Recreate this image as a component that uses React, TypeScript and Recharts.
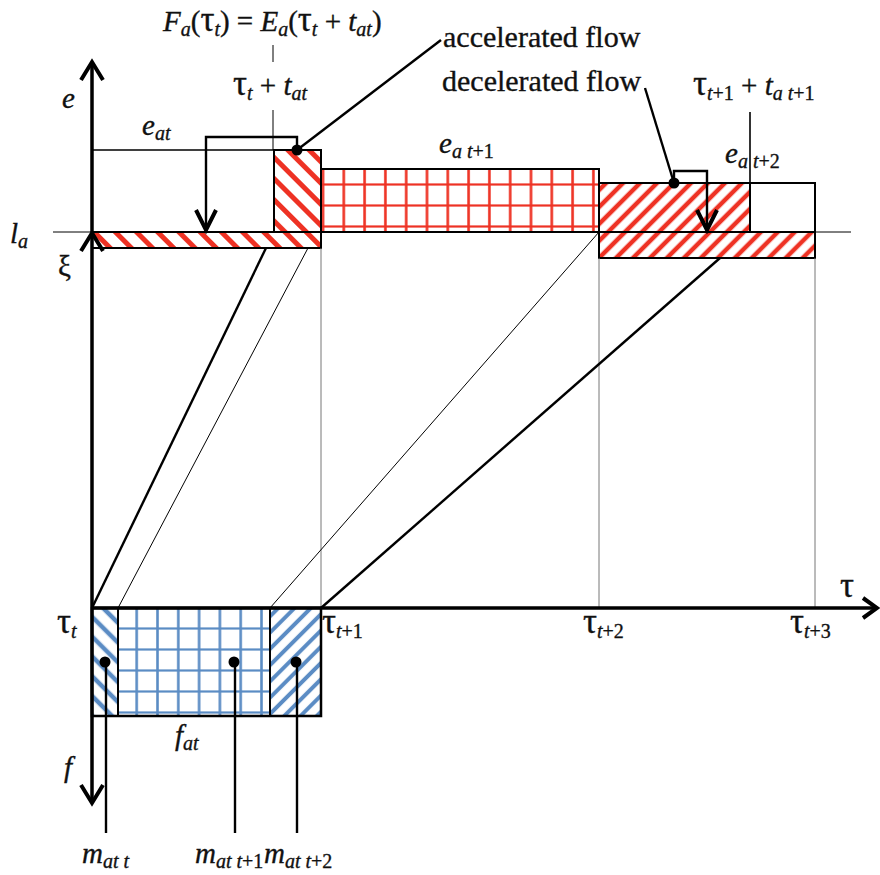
import React from 'react'
import { ComposedChart, XAxis, YAxis, Line, ReferenceArea, ReferenceDot, Scatter } from 'recharts'

const W = 880
const H = 875
const RED = '#ee3224'
const BLUE = '#5b8cc4'
const SERIF = 'Liberation Serif, serif'

// τ axis positions of τ_t … τ_{t+3}
const TAU = [0, 229, 507, 723]
// τ_t + t_at  and  τ_{t+1} + t_{a t+1}
const T_ACC = 182
const T_DEC = 658

// levels above the τ axis
const L_A = 376
const E_AT = 458
const E_AT1 = 439
const E_AT2 = 425
const BAR1 = 360
const BAR2 = 350

// stock below the τ axis
const F_AT = -108
const M_SPLIT = [26, 178]

type Pt = { x: number; y: number }
const p = (x: number, y: number): Pt => ({ x, y })

const head = (tip: Pt, dir: 'up' | 'down' | 'right', s = 11, l = 18): Pt[] => {
  if (dir === 'up') return [p(tip.x - s, tip.y - l), tip, p(tip.x + s, tip.y - l)]
  if (dir === 'down') return [p(tip.x - s, tip.y + l), tip, p(tip.x + s, tip.y + l)]
  return [p(tip.x - l + 4, tip.y + s - 1), tip, p(tip.x - l + 4, tip.y - s + 1)]
}

const AXES: Pt[][] = [
  [p(0, L_A), p(0, 545)],
  [p(0, 0), p(0, 374)],
  [p(0, 0), p(784, 0)],
  [p(0, 0), p(0, -194)],
]

const HEADS: Pt[][] = [
  head(p(0, 546), 'up'),
  head(p(0, 375), 'up'),
  head(p(785, 0), 'right'),
  head(p(0, -195), 'down'),
  head(p(114, 378), 'down', 10, 20),
  head(p(615, 378), 'down', 10, 20),
]

const MEDIUM: Pt[][] = [
  [p(0, 0), p(174, BAR1)],
  [p(TAU[1], 0), p(628, BAR2)],
  [p(205, E_AT), p(205, 471), p(114, 471), p(114, 379)],
  [p(582, E_AT2), p(582, 437), p(615, 437), p(615, 379)],
  [p(205, E_AT), p(349, 568)],
  [p(582, E_AT2), p(553, 520)],
  [p(14, -54), p(14, -225)],
  [p(143, -54), p(143, -225)],
  [p(205, -54), p(205, -225)],
]

const THIN: Pt[][] = [
  [p(M_SPLIT[0], 0), p(216, BAR1)],
  [p(M_SPLIT[1], 0), p(TAU[2], L_A)],
  [p(-39, L_A), p(759, L_A)],
  [p(T_ACC - 1, 563), p(T_ACC - 1, 546)],
  [p(T_ACC - 1, 498), p(T_ACC - 1, E_AT)],
  [p(T_DEC, 496), p(T_DEC, L_A)],
]

const GREY: Pt[][] = [
  [p(TAU[1], 0), p(TAU[1], BAR1)],
  [p(TAU[2], 0), p(TAU[2], BAR2)],
  [p(TAU[3], 0), p(TAU[3], BAR2)],
]

const DOTS: Pt[] = [p(205, E_AT), p(582, E_AT2), p(13, -54), p(142, -54), p(204, -54)]

const AREAS = [
  { x1: TAU[0], x2: T_ACC, y1: L_A, y2: E_AT, fill: 'none' },
  { x1: T_ACC, x2: TAU[1], y1: L_A, y2: E_AT, fill: 'url(#redBack)' },
  { x1: TAU[0], x2: TAU[1], y1: BAR1, y2: L_A, fill: 'url(#redBack)' },
  { x1: TAU[1], x2: TAU[2], y1: L_A, y2: E_AT1, fill: 'url(#redGrid)' },
  { x1: TAU[2], x2: T_DEC, y1: L_A, y2: E_AT2, fill: 'url(#redFwd)' },
  { x1: T_DEC, x2: TAU[3], y1: L_A, y2: E_AT2, fill: '#fff' },
  { x1: TAU[2], x2: TAU[3], y1: BAR2, y2: L_A, fill: 'url(#redFwd)' },
  { x1: TAU[0], x2: M_SPLIT[0], y1: F_AT, y2: 0, fill: 'url(#blueBack)' },
  { x1: M_SPLIT[0], x2: M_SPLIT[1], y1: F_AT, y2: 0, fill: 'url(#blueGrid)' },
  { x1: M_SPLIT[1], x2: TAU[1], y1: F_AT, y2: 0, fill: 'url(#blueFwd)' },
]

// text runs: i italic, n normal, g greek, si italic subscript, sn normal subscript
type Run = [string, string]
const SYMBOLS: { x: number; y: number; runs: Run[] }[] = [
  { x: 71, y: 577, runs: [['F', 'i'], ['a', 'si'], ['(', 'n'], ['τ', 'g'], ['t', 'si'], [') = ', 'n'], ['E', 'i'], ['a', 'si'], ['(', 'n'], ['τ', 'g'], ['t', 'si'], [' + ', 'n'], ['t', 'i'], ['at', 'si'], [')', 'n']] },
  { x: 141, y: 513, runs: [['τ', 'g'], ['t', 'si'], [' + ', 'n'], ['t', 'i'], ['at', 'si']] },
  { x: 601, y: 513, runs: [['τ', 'g'], ['t', 'si'], ['+1', 'sn'], [' + ', 'n'], ['t', 'i'], ['a t', 'si'], ['+1', 'sn']] },
  { x: -30, y: 500, runs: [['e', 'i']] },
  { x: 50, y: 473, runs: [['e', 'i'], ['at', 'si']] },
  { x: -82, y: 365, runs: [['l', 'i'], ['a', 'si']] },
  { x: -34, y: 332, runs: [['ξ', 'n']] },
  { x: 347, y: 455, runs: [['e', 'i'], ['a t', 'si'], ['+1', 'sn']] },
  { x: 633, y: 445, runs: [['e', 'i'], ['a t', 'si'], ['+2', 'sn']] },
  { x: 748, y: 11, runs: [['τ', 'g']] },
  { x: -35, y: -25, runs: [['τ', 'g'], ['t', 'si']] },
  { x: 230, y: -25, runs: [['τ', 'g'], ['t', 'si'], ['+1', 'sn']] },
  { x: 491, y: -25, runs: [['τ', 'g'], ['t', 'si'], ['+2', 'sn']] },
  { x: 698, y: -25, runs: [['τ', 'g'], ['t', 'si'], ['+3', 'sn']] },
  { x: 83, y: -137, runs: [['f', 'i'], ['at', 'si']] },
  { x: -28, y: -169, runs: [['f', 'i']] },
  { x: -10, y: -255, runs: [['m', 'i'], ['at t', 'si']] },
  { x: 103, y: -255, runs: [['m', 'i'], ['at t', 'si'], ['+1', 'sn']] },
  { x: 172, y: -255, runs: [['m', 'i'], ['at t', 'si'], ['+2', 'sn']] },
]

const NOTES = [
  { x: 351, y: 561, text: 'accelerated flow' },
  { x: 350, y: 517, text: 'decelerated flow' },
]

function renderRuns(props: any) {
  const { cx, cy, payload } = props
  const size = 29
  const shift = 5
  let low = false
  return (
    <text x={cx} y={cy} fill="#111" stroke="#111" strokeWidth={0.35} style={{ whiteSpace: 'pre', fontFamily: SERIF }}>
      {payload.runs.map(([t, k]: Run, i: number) => {
        const sub = k === 'si' || k === 'sn'
        const dy = sub && !low ? shift : !sub && low ? -shift : 0
        low = sub
        return (
          <tspan
            key={i}
            dy={dy}
            style={{
              fontFamily: SERIF,
              fontSize: sub ? 20 : k === 'g' ? size * 1.2 : size,
              fontStyle: k === 'i' || k === 'si' ? 'italic' : 'normal',
            }}
          >
            {t}
          </tspan>
        )
      })}
    </text>
  )
}

function renderNote(props: any) {
  const { cx, cy, payload } = props
  return (
    <text x={cx} y={cy} fill="#111" stroke="#111" strokeWidth={0.35} style={{ fontFamily: SERIF, fontSize: 30 }}>
      {payload.text}
    </text>
  )
}

const hatch = (id: string, color: string, gap: number, stroke: number, angle: number) => (
  <pattern id={id} patternUnits="userSpaceOnUse" width={gap} height={gap} patternTransform={`rotate(${angle})`}>
    <rect width={gap} height={gap} fill="#fff" />
    <line x1={gap / 2} y1={0} x2={gap / 2} y2={gap} stroke={color} strokeWidth={stroke} />
  </pattern>
)

const grid = (id: string, color: string, w: number, h: number, x: number, y: number) => (
  <pattern id={id} patternUnits="userSpaceOnUse" width={w} height={h} x={x} y={y}>
    <rect width={w} height={h} fill="#fff" />
    <line x1={w / 2} y1={0} x2={w / 2} y2={h} stroke={color} strokeWidth={2.6} />
    <line x1={0} y1={h / 2} x2={w} y2={h / 2} stroke={color} strokeWidth={2.2} />
  </pattern>
)

const pathLine = (pts: Pt[], key: string, stroke: string, width: number) => (
  <Line
    key={key}
    data={pts}
    dataKey="y"
    type="linear"
    stroke={stroke}
    strokeWidth={width}
    strokeLinejoin="miter"
    dot={false}
    activeDot={false}
    legendType="none"
    isAnimationActive={false}
  />
)

export default function App() {
  return (
    <div style={{ position: 'absolute', left: 0, top: 0, width: W, height: H, background: '#fff', fontFamily: SERIF }}>
      <ComposedChart width={W} height={H} margin={{ top: 0, right: 0, bottom: 0, left: 0 }}>
        <defs>
          {hatch('redBack', RED, 15, 5, -45)}
          {hatch('redFwd', RED, 12, 4.5, 45)}
          {hatch('blueBack', BLUE, 14, 4.5, -45)}
          {hatch('blueFwd', BLUE, 11.5, 4, 45)}
          {grid('redGrid', RED, 20.8, 21, 0.6, 6)}
          {grid('blueGrid', BLUE, 20.8, 21, 1.5, 9)}
        </defs>
        <XAxis type="number" dataKey="x" domain={[-92, 788]} hide allowDataOverflow />
        <YAxis type="number" dataKey="y" domain={[-267, 608]} hide allowDataOverflow />

        {AREAS.map((a, i) => (
          <ReferenceArea
            key={`a${i}`}
            x1={a.x1}
            x2={a.x2}
            y1={a.y1}
            y2={a.y2}
            fill={a.fill}
            fillOpacity={1}
            stroke="#000"
            strokeWidth={i === 0 ? 1.5 : 2}
            ifOverflow="visible"
          />
        ))}
        <ReferenceArea x1={TAU[0]} x2={TAU[1]} y1={F_AT} y2={0} fill="none" stroke="#000" strokeWidth={2.5} ifOverflow="visible" />

        {GREY.map((pts, i) => pathLine(pts, `g${i}`, '#777', 1))}
        {THIN.map((pts, i) => pathLine(pts, `t${i}`, '#000', i === 5 ? 1.6 : 1))}
        {MEDIUM.map((pts, i) => pathLine(pts, `m${i}`, '#000', 2.4))}
        {AXES.map((pts, i) => pathLine(pts, `x${i}`, '#000', 3.5))}
        {HEADS.map((pts, i) => pathLine(pts, `h${i}`, '#000', 4))}

        {DOTS.map((d, i) => (
          <ReferenceDot key={`d${i}`} x={d.x} y={d.y} r={5.5} fill="#000" stroke="none" ifOverflow="visible" />
        ))}

        <Scatter data={SYMBOLS} dataKey="y" shape={renderRuns} isAnimationActive={false} legendType="none" />
        <Scatter data={NOTES} dataKey="y" shape={renderNote} isAnimationActive={false} legendType="none" />
      </ComposedChart>
    </div>
  )
}
